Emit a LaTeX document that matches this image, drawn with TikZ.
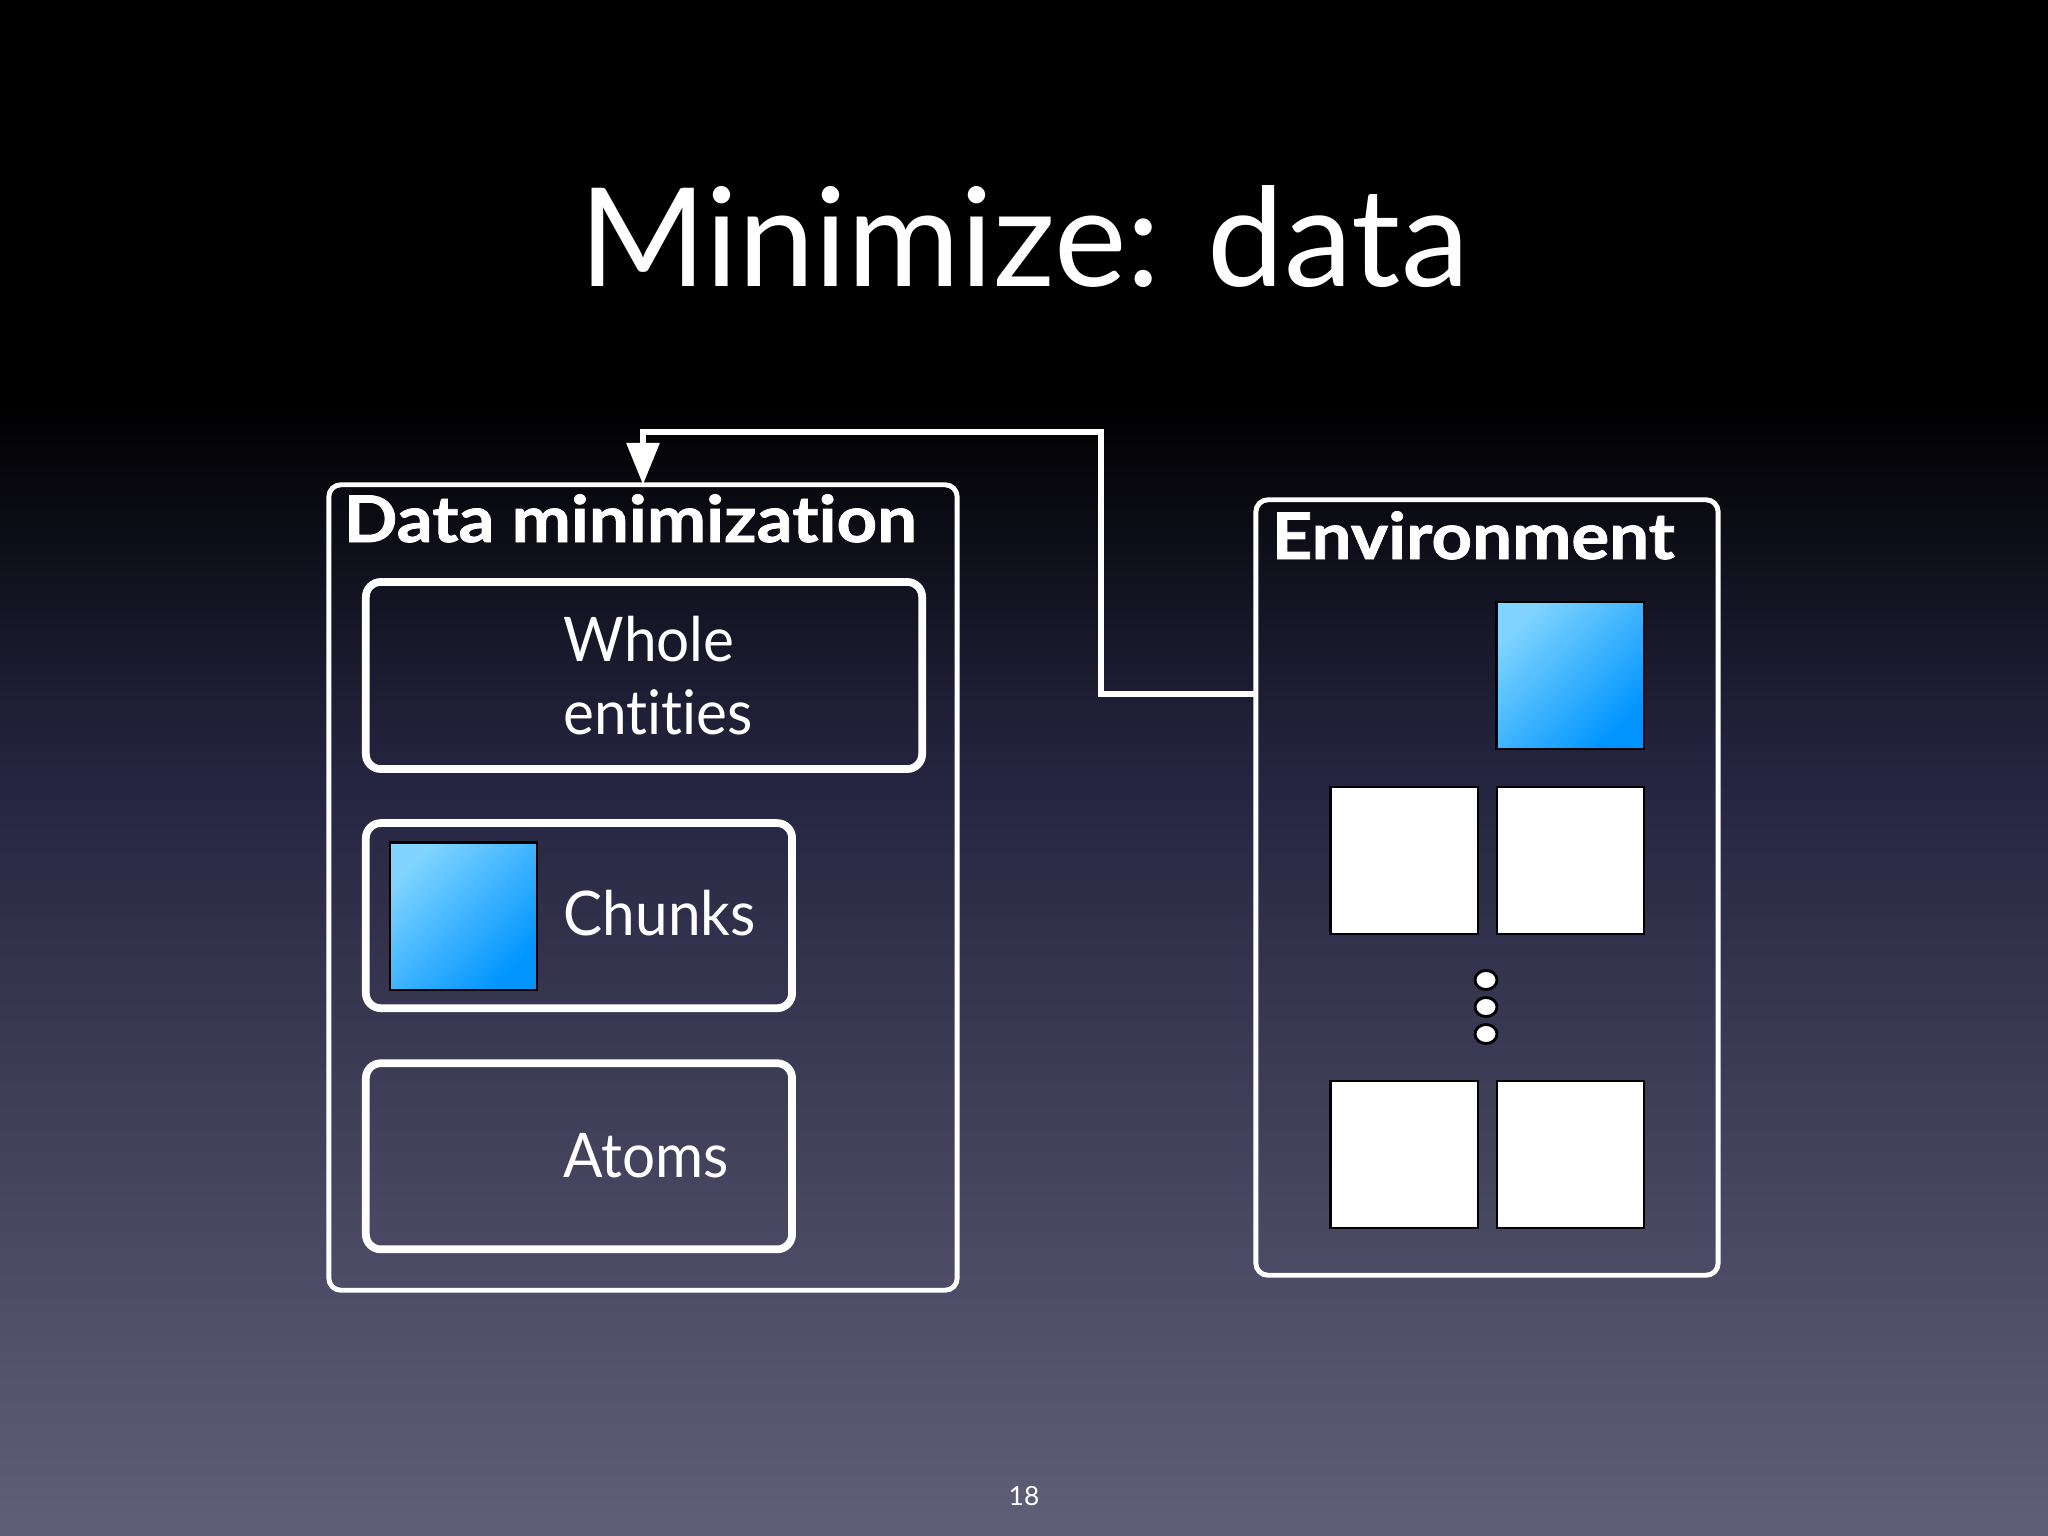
\documentclass[tikz,border=0pt]{standalone}
\usepackage{fontspec}
\setmainfont{Lato}[Ligatures=NoCommon]
\newfontfamily\headfont{Lato}[Ligatures=NoCommon,FakeStretch=1.1,BoldFeatures={FakeBold=1.2}]
\newfontfamily\bodyfont{Lato}[Ligatures=NoCommon,FakeStretch=0.95]
\usetikzlibrary{positioning,arrows.meta,shapes.geometric}

\definecolor{bgmid}{HTML}{252440}
\definecolor{bgbot}{HTML}{615F78}
\definecolor{chunklight}{HTML}{80D4FF}
\definecolor{chunkdark}{HTML}{0094FF}
\pgfdeclareverticalshading{slidebg}{100bp}{color(0bp)=(bgbot); color(25bp)=(bgbot); color(50bp)=(bgmid); color(62bp)=(black); color(100bp)=(black)}

\begin{document}
\begin{tikzpicture}[x=0.01cm,y=-0.01cm,
	outerbox/.style={draw=white,line width=1.4pt,rounded corners=0.12cm,inner sep=0pt,outer sep=0pt},
	innerbox/.style={draw=white,line width=2.2pt,rounded corners=0.15cm,inner sep=0pt,outer sep=0pt},
	chunk/.style={draw=black,line width=0.6pt,minimum size=1.47cm,inner sep=0pt,outer sep=0pt},
	bluechunk/.style={chunk,top color=chunklight,bottom color=chunkdark,shading angle=45},
	whitechunk/.style={chunk,fill=white},
	ellipsisdot/.style={ellipse,draw=black,fill=white,line width=0.8pt,minimum width=0.22cm,minimum height=0.19cm,inner sep=0pt},
	heading/.style={text=white,font=\fontsize{18.3}{22}\selectfont\headfont\bfseries,inner sep=0pt,anchor=base west},
	lbl/.style={text=white,font=\fontsize{17.5}{21}\selectfont\bodyfont,inner sep=0pt,anchor=base west}]

	% slide background
	\shade[shading=slidebg] (0,0) rectangle (2048,1536);
	\useasboundingbox (0,0) rectangle (2048,1536);

	\node[text=white,font=\fontsize{39}{47}\selectfont,inner sep=0pt,anchor=base] (title) at (1024,286) {Minimize: data};

	% left: data minimization
	\node[outerbox,minimum width=6.28cm,minimum height=8.05cm] (dmin) at (643,887.5) {};
	\node[heading] (dminhead) at (343,542) {Data minimization};
	\node[innerbox,minimum width=5.56cm,minimum height=1.87cm] (whole) at (644,675.5) {};
	\node[innerbox,minimum width=4.26cm,minimum height=1.85cm,below=0.54cm of whole.south west,anchor=north west] (chunks) {};
	\node[innerbox,minimum width=4.26cm,minimum height=1.86cm,below=0.55cm of chunks.south west,anchor=north west] (atoms) {};
	\node[lbl] (wholetxt) at (563,661) {Whole};
	\node[lbl] (entitiestxt) at ([yshift=-20.8pt]wholetxt.base west) {entities};
	\node[bluechunk] (chunksq) at (463.5,916) {};
	\node[lbl] (chunkstxt) at (563,935) {Chunks};
	\node[lbl] (atomstxt) at (563,1177) {Atoms};

	% right: environment
	\node[outerbox,minimum width=4.62cm,minimum height=7.75cm] (env) at (1487,887.5) {};
	\node[heading] (envhead) at (1271,559) {Environment};
	\node[bluechunk] (envsq) at (1570,675.5) {};
	\node[whitechunk] (sqa) at (1404,860.5) {};
	\node[whitechunk,right=0.19cm of sqa] (sqb) {};
	\node[whitechunk] (sqc) at (1404,1154.5) {};
	\node[whitechunk,right=0.19cm of sqc] (sqd) {};
	\foreach \i/\y in {1/980,2/1007,3/1034}
		\node[ellipsisdot] (dot\i) at (1486,\y) {};

	% feedback
	\coordinate (envtap) at (env.west |- 0,694);
	\coordinate (bend) at (1101,432);
	\draw[white,line width=1.8pt,-{Triangle[width=0.32cm,length=0.42cm]}] (envtap) -| (bend) -| (dmin.north);

	\node[text=white,font=\fontsize{7.5}{9}\selectfont,inner sep=0pt,anchor=base] (pagenum) at (1024,1505) {18};
\end{tikzpicture}
\end{document}
